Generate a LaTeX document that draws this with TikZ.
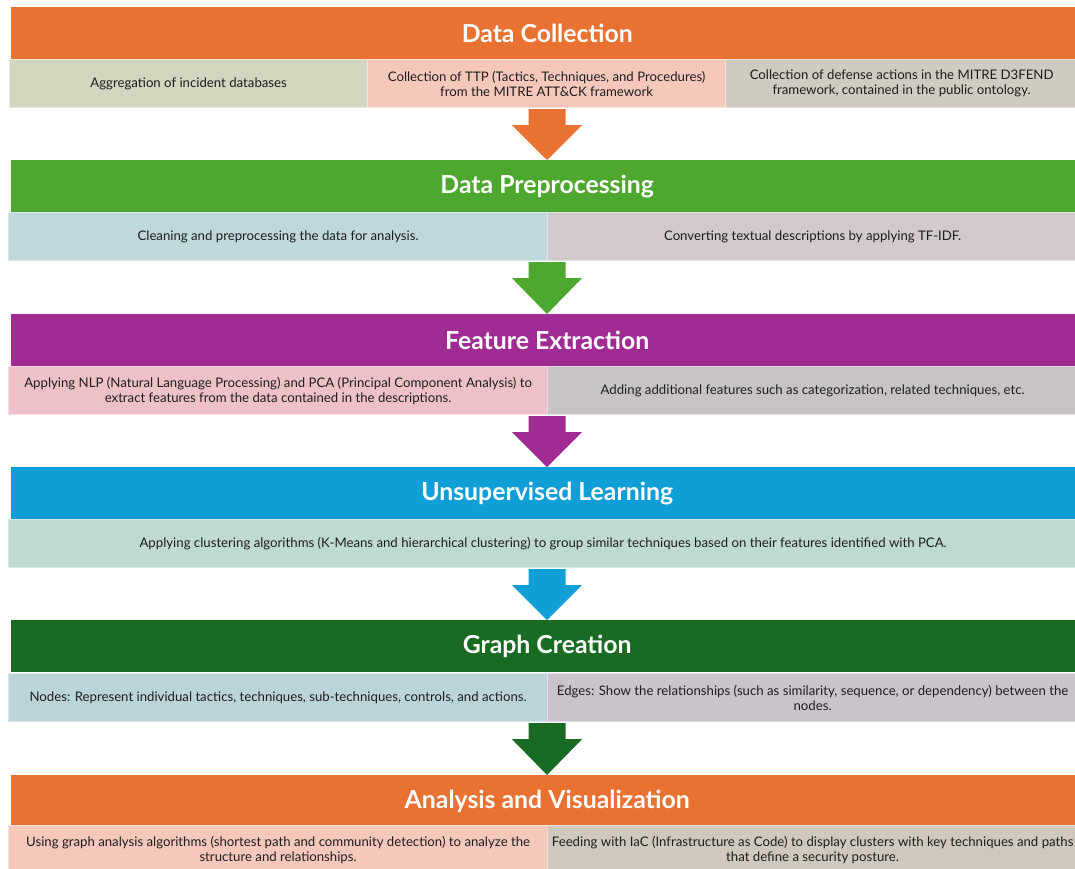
\documentclass[tikz,border=0pt]{standalone}
\usepackage{fontspec}
\setmainfont{Lato}
\usetikzlibrary{calc}
\definecolor{corange}{HTML}{E97132}
\definecolor{cgreen}{HTML}{4EA72E}
\definecolor{cpurple}{HTML}{A02B93}
\definecolor{cblue}{HTML}{0F9ED5}
\definecolor{cdgreen}{HTML}{196B24}
\definecolor{fa}{HTML}{D1D6BE}
\definecolor{fb}{HTML}{F6C8BC}
\definecolor{fc}{HTML}{D0CBC1}
\definecolor{fd}{HTML}{BED8DB}
\definecolor{fe}{HTML}{D1C9CA}
\definecolor{ff}{HTML}{EEC1C8}
\definecolor{fg}{HTML}{C8C3C7}
\definecolor{fh}{HTML}{BFDBD0}
\definecolor{fi}{HTML}{BAD4DA}
\definecolor{fj}{HTML}{CBC3CC}
\definecolor{fk}{HTML}{F5C8BB}
\definecolor{fl}{HTML}{CEC9BC}
\definecolor{txt}{HTML}{1E1E1E}
\begin{document}
\begin{tikzpicture}[x=1pt,y=-1pt,
  hdr/.style={rectangle, anchor=north west, minimum width=1072pt, minimum height=52pt,
    inner sep=0pt, text=white, font=\fontsize{24.8}{28}\selectfont\bfseries},
  sub/.style={rectangle, anchor=north west, minimum height=48pt, inner sep=0pt,
    draw=#1!55!white, line width=1.2pt, fill=#1, text=txt, align=center,
    font=\fontsize{13.2}{15}\selectfont},
  arr/.style={fill=#1}]
\useasboundingbox (0,0) rectangle (1075,869);
% ---------- Band 1
\node[hdr, fill=corange] (h1) at (11,7) {Data Collection};
\node[sub=fa, minimum width=358pt] (s1a) at (9,59) {Aggregation of incident databases};
\node[sub=fb, minimum width=358pt] (s1b) at (367,59) {Collection of TTP (Tactics, Techniques, and Procedures)\\from the MITRE ATT\&CK framework};
\node[sub=fc, minimum width=352pt] (s1c) at (725,59) {Collection of defense actions in the MITRE D3FEND\\framework, contained in the public ontology.};
% ---------- Band 2
\node[hdr, fill=cgreen] (h2) at (11,160) {Data Preprocessing};
\node[sub=fd, minimum width=539pt] (s2a) at (8,212) {Cleaning and preprocessing the data for analysis.};
\node[sub=fe, minimum width=530pt] (s2b) at (547,212) {Converting textual descriptions by applying TF-IDF.};
% ---------- Band 3
\node[hdr, fill=cpurple] (h3) at (11,314) {Feature Extraction};
\node[sub=ff, minimum width=539pt] (s3a) at (8,366) {Applying NLP (Natural Language Processing) and PCA (Principal Component Analysis) to\\extract features from the data contained in the descriptions.};
\node[sub=fg, minimum width=530pt] (s3b) at (547,366) {Adding additional features such as categorization, related techniques, etc.};
% ---------- Band 4
\node[hdr, fill=cblue] (h4) at (11,467) {Unsupervised Learning};
\node[sub=fh, minimum width=1069pt] (s4a) at (8,519) {Applying clustering algorithms (K-Means and hierarchical clustering) to group similar techniques based on their features identified with PCA.};
% ---------- Band 5
\node[hdr, fill=cdgreen] (h5) at (11,620) {Graph Creation};
\node[sub=fi, minimum width=539pt] (s5a) at (8,673) {Nodes: Represent individual tactics, techniques, sub-techniques, controls, and actions.};
\node[sub=fj, minimum width=530pt] (s5b) at (547,673) {Edges: Show the relationships (such as similarity, sequence, or dependency) between the\\nodes.};
% ---------- Band 6
\node[hdr, fill=corange] (h6) at (11,775) {Analysis and Visualization};
\node[sub=fk, minimum width=539pt, minimum height=48pt] (s6a) at (8,825) {Using graph analysis algorithms (shortest path and community detection) to analyze the\\structure and relationships.};
\node[sub=fl, minimum width=530pt, minimum height=48pt] (s6b) at (547,825) {Feeding with IaC (Infrastructure as Code) to display clusters with key techniques and paths\\that define a security posture.};
% ---------- Arrows
\foreach \s/\h/\c in {s1b/h2/corange, s2a/h3/cgreen, s3a/h4/cpurple, s4a/h5/cblue, s5a/h6/cdgreen}{
  \coordinate (top) at ($(\s.south west)+(0,1)$);
  \coordinate (t) at (547,0);
  \coordinate (tip) at (t |- \h.north);
  \coordinate (st) at (t |- top);
  \fill[\c] ($(st)+(-18.5,0)$) -- ($(st)+(18.5,0)$) -- ($(st)+(18.5,16)$) -- ($(st)+(35,16)$)
     -- (tip) -- ($(st)+(-35,16)$) -- ($(st)+(-18.5,16)$) -- cycle;
}
\end{tikzpicture}
\end{document}
